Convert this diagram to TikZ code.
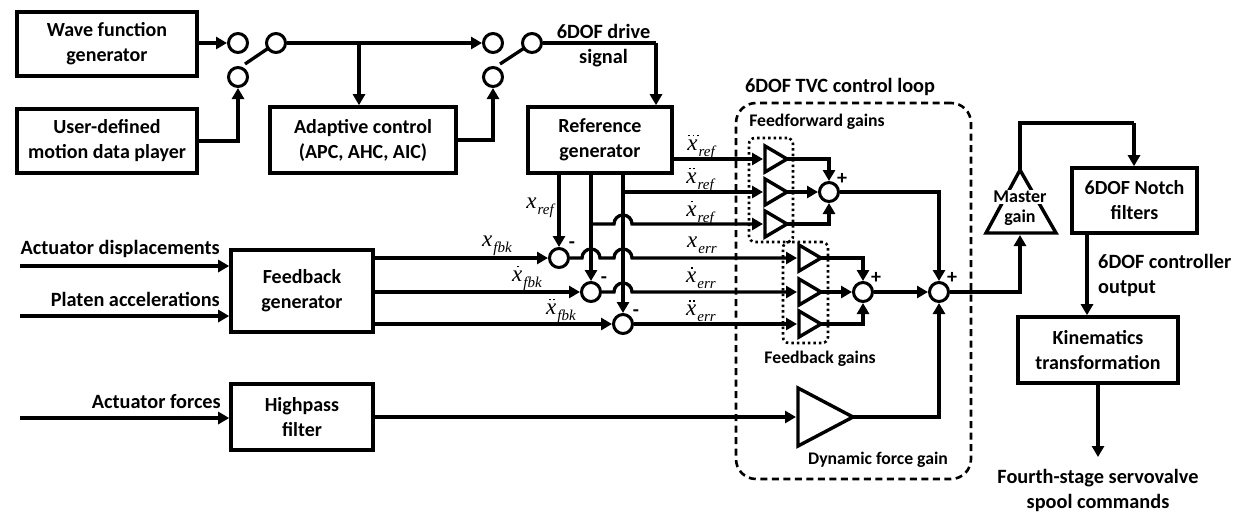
\documentclass[tikz,border=0pt]{standalone}
\usepackage{fontspec}
\setmainfont{Carlito}
\newfontfamily\tnr{Liberation Serif}
\usetikzlibrary{arrows.meta,positioning,calc}
\tikzset{
  blk/.style={draw,line width=3.6pt,fill=white,align=center,font=\fontsize{20}{25}\selectfont\bfseries,inner sep=0pt},
  lbl/.style={align=center,font=\fontsize{20.3}{25}\selectfont\bfseries,inner sep=0pt},
  sm/.style={font=\fontsize{17.7}{18}\selectfont\bfseries,inner sep=0pt},
  cir/.style={draw,circle,line width=3pt,fill=white,minimum size=19pt,inner sep=0pt},
  wire/.style={line width=3.3pt},
  arr/.style={line width=3.3pt,-{Triangle[length=11pt,width=12pt]}},
  gain/.style={draw,line width=3.4pt,line join=miter,fill=white},
  mth/.style={inner sep=0pt},
  sgn/.style={font=\fontsize{20}{20}\selectfont\bfseries,inner sep=0pt},
}
\newcommand{\dt}{\rule{1.8pt}{1.8pt}}
\newcommand{\xv}[3]{{\tnr\itshape\fontsize{23}{23}\selectfont\rlap{\raisebox{14pt}{\kern#1pt #2}}x\raisebox{-6pt}{\kern1pt\fontsize{15}{15}\selectfont #3}}}
\newcommand{\dA}{\dt}
\newcommand{\dB}{\dt\kern2.6pt\dt}
\newcommand{\dC}{\dt\kern2.4pt\dt\kern2.4pt\dt}
\begin{document}
\begin{tikzpicture}[x=1pt,y=-1pt]
\useasboundingbox (0,0) rectangle (1238,512);
% blocks
\node[blk,minimum width=180pt,minimum height=64pt] (wave) at (107,44) {Wave function\\generator};
\node[blk,minimum width=180pt,minimum height=64pt] (user) at (107,141) {User-defined\\motion data player};
\node[blk,minimum width=186pt,minimum height=66pt] (adapt) at (363,140) {Adaptive control\\(APC, AHC, AIC)};
\node[blk,minimum width=144pt,minimum height=66pt] (ref) at (600,140) {Reference\\generator};
\node[blk,minimum width=142pt,minimum height=82pt] (fb) at (302,291) {Feedback\\generator};
\node[blk,minimum width=142pt,minimum height=66pt] (hp) at (302,417) {Highpass\\filter};
\node[blk,minimum width=125pt,minimum height=65pt] (notch) at (1134.5,200.5) {6DOF Notch\\filters};
\node[blk,minimum width=160pt,minimum height=66pt] (kin) at (1098,350) {Kinematics\\transformation};
% dashed / dotted
\node[draw,dash pattern=on 7pt off 4.5pt,line width=2.6pt,rounded corners=20pt,minimum width=235pt,minimum height=376pt,inner sep=0pt] (loop) at (853.5,291) {};
\node[draw,dash pattern=on 2.5pt off 3pt,line width=2.6pt,rounded corners=6pt,minimum width=44pt,minimum height=104pt,inner sep=0pt] (ffbox) at (771,190) {};
\node[draw,dash pattern=on 2.5pt off 3pt,line width=2.6pt,rounded corners=6pt,minimum width=45pt,minimum height=101pt,inner sep=0pt] (fbbox) at (805.5,292.5) {};
% switches
\coordinate (k1) at (245,64);
\coordinate (k2) at (500,64);
\coordinate (c1c) at (276,43);
\coordinate (c2c) at (532,43);
\draw[wire] (k1) -- (c1c);
\draw[wire] (k2) -- (c2c);
\node[cir] (s1a) at (238,43) {};
\node[cir] (s1b) at (238,77) {};
\node[cir] (s1c) at (276,43) {};
\node[cir] (s2a) at (493,43) {};
\node[cir] (s2b) at (493,77) {};
\node[cir] (s2c) at (532,43) {};
\coordinate (j1) at (359,43);
\draw[arr] (wave.east |- s1a) -- (s1a);
\draw[arr] (user.east) -| (s1b);
\draw[arr] (s1c) -- (s2a);
\draw[arr] (j1) -- (j1 |- adapt.north);
\draw[arr] (adapt.east) -| (s2b);
\coordinate (r1) at (656,43);
\draw[wire] (s2c) -- (r1);
\draw[arr] (r1) -- (r1 |- ref.north);
% gains
\foreach \n/\y in {g1/159,g2/192,g3/224}{
  \draw[gain] (765,\y-13) -- (765,\y+13) -- (787,\y) -- cycle;
  \coordinate (\n) at (763,\y); \coordinate (\n o) at (787,\y);
}
\foreach \n/\y in {g4/258,g5/292,g6/324}{
  \draw[gain] (799,\y-13) -- (799,\y+13) -- (821,\y) -- cycle;
  \coordinate (\n) at (797,\y); \coordinate (\n o) at (821,\y);
}
\draw[gain] (798,388) -- (798,446) -- (853,417) -- cycle;
\coordinate (g7) at (796,417); \coordinate (g7o) at (853,417);
% summers
\node[cir] (c1) at (559,258) {};
\node[cir] (c2) at (591,292) {};
\node[cir] (c3) at (623,324) {};
\node[cir] (s1) at (829,192) {};
\node[cir] (s2) at (863,292) {};
\node[cir] (s3) at (939,292) {};
% ref lines
\draw[arr] (ref.east |- g1) -- (g1);
\draw[arr] (623,192) -- (g2);
\draw[arr] (591,224) -- (614,224) arc[start angle=180,end angle=0,radius=9pt] -- (g3);
\draw[arr] (559,173) -- (c1);
\draw[arr] (591,173) -- (c2);
\draw[arr] (623,173) -- (c3);
% err lines
\draw[arr] (c1) -- (582,258) arc[start angle=180,end angle=0,radius=9pt] -- (614,258) arc[start angle=180,end angle=0,radius=9pt] -- (g4);
\draw[arr] (c2) -- (614,292) arc[start angle=180,end angle=0,radius=9pt] -- (g5);
\draw[arr] (c3) -- (g6);
% inputs
\coordinate (i1) at (20,266); \coordinate (i2) at (20,316); \coordinate (i3) at (20,418);
\draw[arr] (i1) -- (i1 -| fb.west);
\draw[arr] (i2) -- (i2 -| fb.west);
\draw[arr] (i3) -- (i3 -| hp.west);
\coordinate (f1) at (373,258); \coordinate (f2) at (373,292); \coordinate (f3) at (373,324);
\draw[arr] (f1) -- (c1);
\draw[arr] (f2) -- (c2);
\draw[arr] (f3) -- (c3);
\draw[arr] (hp.east |- g7) -- (g7);
% sums
\draw[arr] (g1o) -| (s1);
\draw[arr] (g2o) -- (s1);
\draw[arr] (g3o) -| (s1);
\draw[arr] (g4o) -| (s2);
\draw[arr] (g5o) -- (s2);
\draw[arr] (g6o) -| (s2);
\draw[arr] (s1) -| (s3);
\draw[arr] (s2) -- (s3);
\draw[arr] (g7o) -| (s3);
% master
\draw[gain] (1020,170) -- (986,233) -- (1056,233) -- cycle;
\node[font=\fontsize{18}{18}\selectfont\bfseries,fill=white,inner sep=1pt] (mg) at (1020,197) {Master};
\node[font=\fontsize{18}{18}\selectfont\bfseries,inner sep=0pt] (mg2) at (1020,218) {gain};
\coordinate (m1) at (1020,235);
\draw[arr] (s3) -| (m1);
\coordinate (t0) at (1020,170);
\coordinate (t1) at (1020,123);
\coordinate (t2) at (1134,123);
\draw[wire] (t0) -- (t1) -- (t2);
\draw[arr] (t2) -- (t2 |- notch.north);
\coordinate (n1) at (1087,233);
\draw[arr] (n1) -- (n1 |- kin.north);
\coordinate (o1) at (1098,457);
\draw[arr] (o1 |- kin.south) -- (o1);
% text
\node[lbl] (t6) at (603.5,45.5) {6DOF drive\\signal};
\node[lbl] at (840,87) {6DOF TVC control loop};
\node[sm] at (817,122) {Feedforward gains};
\node[sm] at (820,359) {Feedback gains};
\node[sm] at (878,460) {Dynamic force gain};
\node[lbl,anchor=east] at (220,249) {Actuator displacements};
\node[lbl,anchor=east] at (220,299) {Platen accelerations};
\node[lbl,anchor=east] at (221,402) {Actuator forces};
\node[lbl,anchor=west,align=left] at (1098,275) {6DOF controller\\output};
\node[lbl] at (1098,490) {Fourth-stage servovalve\\spool commands};
\foreach \x/\y in {842/179,876/278,952/278}{\node[sgn] at (\x,\y) {+};}
\foreach \x/\y in {572/245,604/280,636/313}{\node[sgn] at (\x,\y) {-};}
% math
\node[mth] at (701,147) {\xv{1}{\dC}{ref}};
\node[mth] at (700,180) {\xv{2.5}{\dB}{ref}};
\node[mth] at (700,213) {\xv{4.5}{\dA}{ref}};
\node[mth] at (540,206) {\xv{0}{}{ref}};
\node[mth] at (497,244) {\xv{0}{}{fbk}};
\node[mth] at (527,278) {\xv{4.5}{\dA}{fbk}};
\node[mth] at (561,311) {\xv{2.5}{\dB}{fbk}};
\node[mth] at (702,244) {\xv{0}{}{err}};
\node[mth] at (701,278) {\xv{4.5}{\dA}{err}};
\node[mth] at (701,311) {\xv{2.5}{\dB}{err}};
\end{tikzpicture}
\end{document}
